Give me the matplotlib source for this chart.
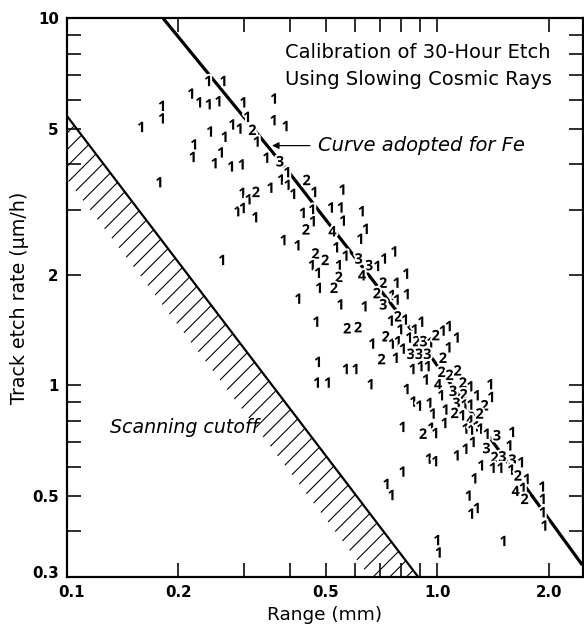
import numpy as np
import matplotlib
matplotlib.use("Agg")
import matplotlib.pyplot as plt
import matplotlib.patheffects as pe
import matplotlib.transforms as mtransforms

DPI = 100


def px(v):
    """Convert a size in pixels to points at the output resolution."""
    return v * 72.0 / DPI


plt.rcParams['font.family'] = ['DejaVu Sans']
plt.rcParams['hatch.linewidth'] = px(1.1)

# Calibration tracks: range (mm), etch rate (um/h), number of tracks at that point
RANGE_MM = [
    0.159, 0.181, 0.181, 0.178, 0.241, 0.265, 0.217, 0.228, 0.242, 0.257,
    0.300, 0.363, 0.307, 0.362, 0.390, 0.280, 0.293, 0.317, 0.244, 0.267,
    0.326, 0.221, 0.219, 0.261, 0.251, 0.278, 0.297, 0.346, 0.376, 0.394,
    0.379, 0.395, 0.409, 0.355, 0.298, 0.310, 0.324, 0.289, 0.299, 0.323,
    0.385, 0.420, 0.263, 0.422, 0.444, 0.466, 0.555, 0.434, 0.460, 0.517,
    0.549, 0.626, 0.462, 0.442, 0.521, 0.557, 0.642, 0.620, 0.469, 0.498,
    0.534, 0.566, 0.613, 0.654, 0.689, 0.719, 0.766, 0.459, 0.477, 0.543,
    0.542, 0.626, 0.714, 0.777, 0.825, 0.480, 0.526, 0.687, 0.755, 0.778,
    0.828, 0.714, 0.548, 0.637, 0.782, 0.750, 0.819, 0.472, 0.571, 0.611,
    0.795, 0.869, 0.906, 0.668, 0.726, 0.755, 0.783, 0.808, 0.840, 0.878,
    0.917, 0.958, 0.990, 1.035, 1.075, 1.129, 0.707, 0.773, 0.847, 0.892,
    0.939, 1.073, 1.035, 0.477, 0.567, 0.602, 0.858, 0.902, 0.943, 1.027,
    1.079, 1.134, 0.474, 0.507, 0.661, 0.932, 1.004, 1.172, 1.229, 1.390,
    0.827, 1.102, 1.177, 1.279, 1.398, 1.025, 0.862, 0.894, 0.953, 1.125,
    1.185, 1.229, 1.341, 0.973, 1.053, 1.113, 1.168, 1.222, 1.300, 0.806,
    0.915, 0.963, 0.988, 1.046, 1.192, 1.235, 1.274, 1.306, 1.360, 1.447,
    1.593, 1.192, 1.247, 1.356, 1.566, 1.427, 1.497, 1.593, 1.684, 0.949,
    0.988, 1.129, 1.314, 1.412, 1.481, 1.583, 0.806, 1.649, 1.744, 1.260,
    1.626, 1.701, 1.919, 1.216, 0.753, 0.730, 1.719, 1.926, 1.926, 1.946,
    1.235, 1.279, 1.000, 1.010, 1.509,
]
ETCH_RATE = [
    5.02, 5.73, 5.30, 3.55, 6.70, 6.70, 6.19, 5.86, 5.79, 5.90,
    5.86, 6.00, 5.35, 5.24, 5.05, 5.10, 4.97, 4.93, 4.88, 4.72,
    4.58, 4.50, 4.16, 4.28, 4.00, 3.92, 3.97, 4.14, 4.05, 3.78,
    3.61, 3.49, 3.30, 3.43, 3.32, 3.19, 3.34, 2.96, 3.02, 2.85,
    2.47, 2.39, 2.18, 1.71, 3.60, 3.34, 3.39, 2.93, 2.99, 3.03,
    3.03, 2.96, 2.78, 2.64, 2.61, 2.79, 2.65, 2.49, 2.27, 2.18,
    2.36, 2.24, 2.20, 2.11, 2.10, 2.20, 2.30, 2.11, 2.01, 2.11,
    1.96, 1.98, 1.89, 1.89, 2.00, 1.83, 1.83, 1.77, 1.75, 1.70,
    1.76, 1.65, 1.65, 1.63, 1.53, 1.49, 1.50, 1.48, 1.42, 1.43,
    1.41, 1.41, 1.48, 1.29, 1.35, 1.29, 1.31, 1.25, 1.34, 1.31,
    1.31, 1.30, 1.36, 1.40, 1.44, 1.34, 1.17, 1.18, 1.21, 1.21,
    1.21, 1.26, 1.18, 1.15, 1.10, 1.10, 1.10, 1.12, 1.12, 1.08,
    1.06, 1.09, 1.01, 1.01, 1.00, 1.03, 1.00, 1.01, 0.987, 1.00,
    0.970, 0.959, 0.939, 0.933, 0.923, 0.933, 0.897, 0.874, 0.889, 0.889,
    0.880, 0.880, 0.876, 0.832, 0.853, 0.835, 0.823, 0.797, 0.832, 0.765,
    0.733, 0.761, 0.736, 0.784, 0.757, 0.752, 0.768, 0.757, 0.733, 0.726,
    0.741, 0.667, 0.696, 0.670, 0.681, 0.633, 0.636, 0.623, 0.613, 0.627,
    0.617, 0.640, 0.601, 0.592, 0.592, 0.585, 0.578, 0.564, 0.552, 0.554,
    0.512, 0.522, 0.526, 0.497, 0.499, 0.535, 0.487, 0.487, 0.448, 0.412,
    0.444, 0.460, 0.376, 0.348, 0.374,
]
TRACK_COUNT = [
    1, 1, 1, 1, 1, 1, 1, 1, 1, 1,
    1, 1, 1, 1, 1, 1, 1, 2, 1, 1,
    1, 1, 1, 1, 1, 1, 1, 1, 3, 1,
    1, 1, 1, 1, 1, 1, 2, 1, 1, 1,
    1, 1, 1, 1, 2, 1, 1, 1, 1, 1,
    1, 1, 1, 2, 4, 1, 1, 1, 2, 2,
    1, 1, 3, 3, 1, 1, 1, 1, 1, 1,
    2, 4, 2, 1, 1, 1, 2, 2, 1, 1,
    1, 3, 1, 1, 2, 1, 1, 1, 2, 2,
    1, 1, 1, 1, 2, 1, 1, 1, 1, 2,
    3, 1, 2, 1, 1, 1, 2, 1, 3, 3,
    3, 1, 2, 1, 1, 1, 1, 1, 1, 2,
    2, 2, 1, 1, 1, 1, 4, 2, 1, 1,
    1, 3, 2, 1, 1, 1, 1, 1, 1, 3,
    1, 1, 2, 1, 1, 2, 1, 4, 2, 1,
    2, 1, 1, 1, 1, 1, 1, 1, 1, 3,
    1, 1, 1, 3, 1, 2, 3, 3, 1, 1,
    1, 1, 1, 1, 1, 1, 1, 2, 1, 1,
    4, 1, 1, 1, 1, 1, 2, 1, 1, 1,
    1, 1, 1, 1, 1,
]

# Adopted Fe calibration curve (knots along the curve)
FE_CURVE_X = [0.182, 0.395, 0.858, 2.46]
FE_CURVE_Y = [10.0, 3.84, 1.40, 0.324]

# Scanning cutoff line
CUTOFF_X = [0.1, 0.889]
CUTOFF_Y = [5.43, 0.30]

X_MAJOR = [0.1, 0.2, 0.5, 1.0, 2.0]
X_MAJOR_LABELS = ['0.1', '0.2', '0.5', '1.0', '2.0']
X_MINOR = [0.3, 0.4, 0.6, 0.7, 0.8, 0.9]
Y_MAJOR = [0.3, 0.5, 1, 2, 5, 10]
Y_MAJOR_LABELS = ['0.3', '0.5', '1', '2', '5', '10']
Y_MINOR = [0.4, 0.6, 0.7, 0.8, 0.9, 3, 4, 6, 7, 8, 9]

W, H = 584, 627
fig = plt.figure(figsize=(W / DPI, H / DPI), dpi=DPI)
ax = fig.add_axes([66.7 / W, 1 - 577.3 / H, (583.3 - 66.7) / W, (577.3 - 18.3) / H])
ax.set_xscale('log')
ax.set_yscale('log')
ax.set_xlim(0.1, 2.475)
ax.set_ylim(0.3, 10)

# hatched band just below the scanning cutoff
xs = np.geomspace(0.05, 1.2, 200)
slope = (np.log10(CUTOFF_Y[1]) - np.log10(CUTOFF_Y[0])) / \
        (np.log10(CUTOFF_X[1]) - np.log10(CUTOFF_X[0]))
upper = 10 ** (np.log10(CUTOFF_Y[0]) + slope * (np.log10(xs) - np.log10(CUTOFF_X[0])))
lower = upper * 0.672
ax.fill_between(xs, lower, upper, facecolor='none', edgecolor='black',
                hatch='//', linewidth=0, zorder=1)
ax.plot(xs, upper, color='black', lw=px(2.2), zorder=2)

# Fe curve
ax.plot(FE_CURVE_X, FE_CURVE_Y, color='black', lw=px(3.2), zorder=2,
        solid_capstyle='butt')

# track digits
halo = [pe.withStroke(linewidth=px(4), foreground='white')]
for x, y, n in zip(RANGE_MM, ETCH_RATE, TRACK_COUNT):
    ax.text(x, y, str(n), ha='center', va='center', fontsize=px(14.5),
            family=['Open Sans', 'DejaVu Sans'], fontweight='bold',
            path_effects=halo, zorder=3)

# ticks
ax.set_xticks(X_MAJOR)
ax.set_xticklabels(X_MAJOR_LABELS)
ax.set_xticks(X_MINOR, minor=True)
ax.set_yticks(Y_MAJOR)
ax.set_yticklabels(Y_MAJOR_LABELS)
ax.set_yticks(Y_MINOR, minor=True)
ax.xaxis.set_minor_formatter(matplotlib.ticker.NullFormatter())
ax.yaxis.set_minor_formatter(matplotlib.ticker.NullFormatter())
ax.tick_params(which='both', direction='in', length=px(14), width=px(1.6),
               top=True, right=True, labelsize=px(15), pad=px(8))
for lab in ax.get_xticklabels() + ax.get_yticklabels():
    lab.set_fontweight('bold')
for s in ax.spines.values():
    s.set_linewidth(px(2.2))

# nudge the corner labels away from the axes corner
ax.get_xticklabels()[0].set_transform(
    ax.get_xticklabels()[0].get_transform()
    + mtransforms.ScaledTranslation(5 / DPI, 0, fig.dpi_scale_trans))
ax.get_yticklabels()[0].set_transform(
    ax.get_yticklabels()[0].get_transform()
    + mtransforms.ScaledTranslation(0, 5 / DPI, fig.dpi_scale_trans))

ax.set_xlabel('Range (mm)', fontsize=px(18.5), labelpad=px(6))
ax.set_ylabel('Track etch rate (µm/h)', fontsize=px(19), labelpad=px(3))

ax.text(0.680, 0.938, 'Calibration of 30-Hour Etch', transform=ax.transAxes,
        ha='center', va='center', fontsize=px(19.5))
ax.text(0.680, 0.890, 'Using Slowing Cosmic Rays', transform=ax.transAxes,
        ha='center', va='center', fontsize=px(19.5))

ax.annotate('Curve adopted for Fe', xy=(0.358, 4.50), xytext=(0.477, 4.50),
            fontsize=px(19.5), style='italic', va='center', ha='left',
            arrowprops=dict(arrowstyle='-|>', color='black', lw=px(1.2),
                            mutation_scale=px(14), shrinkA=4, shrinkB=0))

ax.text(0.131, 0.768, 'Scanning cutoff', fontsize=px(19), style='italic',
        ha='left', va='center')

fig.savefig('out.png', dpi=DPI)
